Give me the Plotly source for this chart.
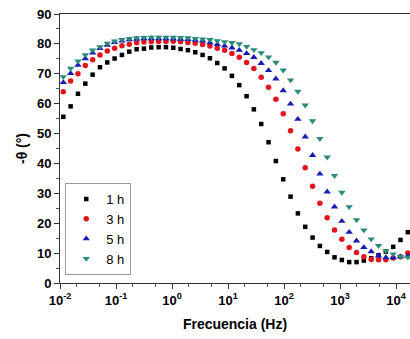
import plotly.graph_objects as go

# Frequencies (Hz)
freq = [0.01146, 0.01549, 0.02094, 0.02831, 0.03828, 0.05166, 0.06982, 0.09441,
        0.1276, 0.1726, 0.2333, 0.3155, 0.4266, 0.5768, 0.7798, 1.054,
        1.422, 1.923, 2.600, 3.516, 4.753, 6.427, 8.690, 11.75,
        15.89, 21.48, 28.97, 39.17, 52.97, 71.61, 96.83, 130.9,
        177.0, 239.3, 323.6, 437.5, 590.2, 798.0, 1079, 1459,
        1972, 2667, 3606, 4875, 6592, 8913, 12020, 16260]

h1 = [55.6, 59.1, 63.3, 66.7, 69.7, 72.2, 73.8, 75.1, 76.3, 77.4, 78.2, 78.4,
      78.8, 78.9, 78.9, 78.7, 78.3, 77.9, 77.2, 76.3, 75.2, 73.6, 71.8, 69.3,
      66.2, 62.5, 58.1, 53.2, 47.1, 40.8, 34.7, 28.9, 23.3, 18.8, 15.2, 12.4,
      10.4, 8.6, 7.7, 7.0, 7.0, 7.5, 8.3, 9.3, 10.5, 12.1, 14.4, 17.0]

h3 = [64.0, 67.6, 70.0, 72.8, 74.7, 76.3, 77.6, 78.5, 79.4, 79.9, 80.4, 80.6,
      80.7, 80.8, 80.8, 80.9, 80.7, 80.5, 80.2, 79.8, 79.3, 78.5, 77.9, 76.8,
      75.5, 73.8, 71.8, 68.8, 65.5, 61.5, 56.6, 50.9, 44.8, 38.6, 32.4, 26.7,
      21.8, 17.7, 14.6, 11.9, 10.2, 8.8, 7.9, 7.8, 7.8, 8.4, 8.8, 10.0]

h5 = [67.1, 70.1, 72.9, 75.1, 77.0, 78.5, 79.6, 80.5, 81.0, 81.4, 81.6, 81.8,
      81.8, 81.8, 81.8, 81.7, 81.6, 81.5, 81.3, 81.0, 80.4, 79.8, 79.3, 78.7,
      77.9, 76.8, 75.5, 73.5, 71.1, 68.3, 64.4, 59.9, 54.8, 48.9, 42.7, 36.5,
      30.5, 25.5, 20.7, 17.0, 14.1, 11.9, 10.5, 9.1, 8.5, 8.5, 8.8, 9.0]

h8 = [69.0, 71.8, 74.2, 76.3, 77.9, 79.0, 80.2, 80.9, 81.4, 81.8, 82.0, 82.1,
      82.2, 82.2, 82.2, 82.2, 82.1, 82.0, 81.8, 81.6, 81.4, 81.0, 80.7, 80.4,
      80.0, 79.1, 78.0, 77.0, 75.6, 73.8, 71.2, 67.9, 64.1, 59.5, 54.2, 48.3,
      42.1, 35.9, 30.3, 25.5, 21.1, 17.7, 14.7, 12.5, 10.7, 9.7, 8.8, 8.6]

names = ["1 h", "3 h", "5 h", "8 h"]
series = [h1, h3, h5, h8]
colors = ["#000000", "#e3141c", "#1a1ab4", "#2a8a7c"]
symbols = ["square", "circle", "triangle-up", "triangle-down"]
sizes = [4.5, 5.5, 6.5, 6.5]

xtick_vals = [0.01, 0.1, 1, 10, 100, 1000, 10000]
xtick_text = ["10<sup>-2</sup>", "10<sup>-1</sup>", "10<sup>0</sup>", "10<sup>1</sup>",
              "10<sup>2</sup>", "10<sup>3</sup>", "10<sup>4</sup>"]

fig = go.Figure()
for n, s, c, m, sz in zip(names, series, colors, symbols, sizes):
    fig.add_trace(go.Scatter(x=freq, y=s, mode="markers", name=n,
                             marker=dict(symbol=m, color=c, size=sz, line=dict(width=0))))

fig.update_layout(
    width=410, height=339,
    margin=dict(l=60, r=0, t=14, b=56),
    paper_bgcolor="white", plot_bgcolor="white",
    font=dict(family="Liberation Sans, Arial", color="#000"),
    showlegend=True,
    legend=dict(x=0.015, y=0.03, xanchor="left", yanchor="bottom",
                bordercolor="#999", borderwidth=1, bgcolor="white",
                font=dict(size=13), itemwidth=30, tracegroupgap=0),
)
fig.update_xaxes(
    type="log", range=[-2, 4.25],
    tickvals=xtick_vals, ticktext=xtick_text,
    ticks="outside", ticklen=5, tickcolor="#333",
    tickfont=dict(size=13, weight="bold"),
    showline=True, linecolor="#333", linewidth=1, mirror=True,
    showgrid=False, zeroline=False,
    minor=dict(ticks="outside", ticklen=3, tickcolor="#555", showgrid=False),
    title=dict(text="Frecuencia (Hz)", font=dict(size=14, weight="bold"), standoff=12),
    automargin=False,
)
fig.update_yaxes(
    range=[0, 90], dtick=10,
    ticks="outside", ticklen=5, tickcolor="#333",
    tickfont=dict(size=13, weight="bold"),
    showline=True, linecolor="#333", linewidth=1, mirror=False,
    showgrid=False, zeroline=False,
    minor=dict(dtick=5, ticks="outside", ticklen=3, tickcolor="#555", showgrid=False),
    title=dict(text="-θ (°)", font=dict(size=14, weight="bold"), standoff=6),
    automargin=False,
)

fig.write_html("out.html")
